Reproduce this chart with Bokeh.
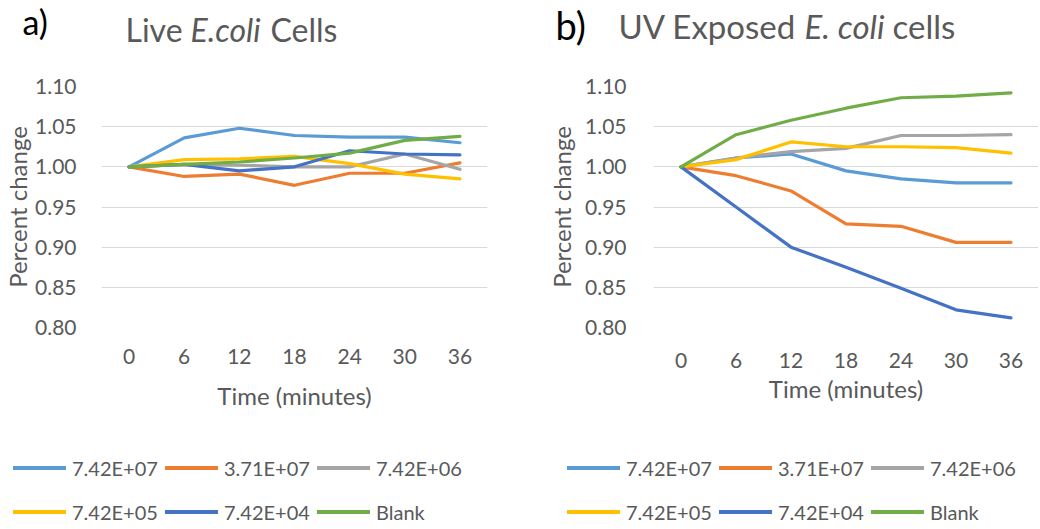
from bokeh.plotting import figure
from bokeh.models import Range1d, FactorRange, Legend, LegendItem, Label, FixedTicker, PrintfTickFormatter
from bokeh.layouts import row, column
from bokeh.embed import file_html
from bokeh.resources import INLINE

times = ["0", "6", "12", "18", "24", "30", "36"]
series_names = ["7.42E+07", "3.71E+07", "7.42E+06", "7.42E+05", "7.42E+04", "Blank"]
colors = ["#5B9BD5", "#ED7D31", "#A5A5A5", "#FFC000", "#4472C4", "#70AD47"]
y_ticks = [0.80, 0.85, 0.90, 0.95, 1.00, 1.05, 1.10]

# a) Live E.coli cells
live_742e7 = [1.000, 1.036, 1.048, 1.039, 1.037, 1.037, 1.030]
live_371e7 = [1.000, 0.988, 0.991, 0.977, 0.992, 0.992, 1.005]
live_742e6 = [1.000, 1.003, 1.002, 1.000, 1.000, 1.016, 0.997]
live_742e5 = [1.000, 1.009, 1.010, 1.013, 1.004, 0.991, 0.985]
live_742e4 = [1.000, 1.003, 0.995, 1.000, 1.020, 1.016, 1.015]
live_blank = [1.000, 1.003, 1.006, 1.011, 1.017, 1.033, 1.038]

# b) UV exposed E. coli cells
uv_742e7 = [1.000, 1.011, 1.016, 0.995, 0.985, 0.980, 0.980]
uv_371e7 = [1.000, 0.989, 0.970, 0.929, 0.926, 0.906, 0.906]
uv_742e6 = [1.000, 1.011, 1.019, 1.023, 1.039, 1.039, 1.040]
uv_742e5 = [1.000, 1.009, 1.031, 1.025, 1.025, 1.024, 1.017]
uv_742e4 = [1.000, 0.950, 0.900, 0.875, 0.849, 0.822, 0.812]
uv_blank = [1.000, 1.040, 1.058, 1.073, 1.086, 1.088, 1.092]

live_series = [live_742e7, live_371e7, live_742e6, live_742e5, live_742e4, live_blank]
uv_series = [uv_742e7, uv_371e7, uv_742e6, uv_742e5, uv_742e4, uv_blank]

FONT = "Lato"
GREY = "#595959"
W_LEFT, W_RIGHT = 520, 518
H_TITLE, H_CHART, H_LEGEND = 62, 360, 107


def make_chart(series, width, b_left, b_right, x_std, x_lab_std, y_std, y_lab_std):
    p = figure(x_range=FactorRange(*times, range_padding=0), y_range=Range1d(0.80, 1.10),
               width=width, height=H_CHART,
               min_border_left=b_left, min_border_right=b_right,
               min_border_top=24, min_border_bottom=95,
               output_backend="svg", toolbar_location=None)
    p.outline_line_color = None
    p.xgrid.grid_line_color = None
    p.ygrid.grid_line_color = "#D9D9D9"
    p.ygrid.grid_line_width = 1
    p.yaxis.ticker = FixedTicker(ticks=y_ticks)
    p.yaxis.formatter = PrintfTickFormatter(format="%.2f")
    for ax in (p.xaxis[0], p.yaxis[0]):
        ax.axis_line_color = None
        ax.major_tick_line_color = None
        ax.minor_tick_line_color = None
        ax.major_label_text_font = FONT
        ax.major_label_text_font_size = "21px"
        ax.major_label_text_color = GREY
        ax.axis_label_text_font = FONT
        ax.axis_label_text_font_size = "24px"
        ax.axis_label_text_font_style = "normal"
        ax.axis_label_text_color = GREY
    p.xaxis.axis_label = "Time (minutes)"
    p.yaxis.axis_label = "Percent change"
    p.xaxis.major_label_standoff = x_std
    p.xaxis.axis_label_standoff = x_lab_std
    p.yaxis.major_label_standoff = y_std
    p.yaxis.axis_label_standoff = y_lab_std
    for vals, c in zip(series, colors):
        p.line(times, vals, line_color=c, line_width=3.2, line_cap="round", line_join="round")
    return p


p1 = make_chart(live_series, W_LEFT, 100, 33, 15, 14, 19, 0)
p2 = make_chart(uv_series, W_RIGHT, 133, 0, 19, 3, 21, 6)


def blank_fig(height, x_range):
    f = figure(width=W_LEFT + W_RIGHT, height=height, x_range=x_range, y_range=Range1d(0, 1),
               x_axis_location=None, y_axis_location=None,
               min_border=0, min_border_left=0, min_border_right=0, min_border_top=0, min_border_bottom=0,
               output_backend="svg", toolbar_location=None)
    f.grid.visible = False
    f.outline_line_color = None
    return f


# titles
t = blank_fig(H_TITLE, Range1d(0, 1))


def add_label(text, x, y, size, style="normal", color=GREY):
    t.add_layout(Label(x=x, y=y, x_units="screen", y_units="screen", text=text,
                       text_font=FONT, text_font_size=size, text_font_style=style,
                       text_color=color, text_baseline="alphabetic", text_align="left"))


add_label("a)", 22, 41, "34px", color="#000000")
add_label("Live", 125, 33, "32px")
add_label("E.coli", 190, 33, "32px", style="italic")
add_label("Cells", 270, 33, "32px")
add_label("b)", 555, 38, "38px", color="#000000")
add_label("UV Exposed", 618, 37, "33px")
add_label("E. coli", 804, 37, "33px", style="italic")
add_label("cells", 892, 37, "33px")

# legends: swatch renderers carry each series' style (hidden, legend only)
lg = blank_fig(H_LEGEND, FactorRange(*times))
swatches = [lg.line(times, vals, line_color=c, line_width=4, line_cap="round", visible=False)
            for vals, c in zip(live_series, colors)]
order = [0, 3, 1, 4, 2, 5]  # legend fills column by column
for lx in (13, 567):
    items = [LegendItem(label=series_names[i], renderers=[swatches[i]]) for i in order]
    lg.add_layout(Legend(items=items, ncols=3, location=(lx, -1),
                         glyph_width=53, glyph_height=37, label_height=37, label_width=86,
                         label_standoff=6, spacing=7, padding=0, margin=0,
                         border_line_color=None, background_fill_alpha=0,
                         inactive_fill_alpha=0,
                         label_text_font=FONT, label_text_font_size="20px",
                         label_text_color=GREY))

layout = column(t, row(p1, p2), lg)
open("out.html", "w").write(file_html(layout, INLINE))
